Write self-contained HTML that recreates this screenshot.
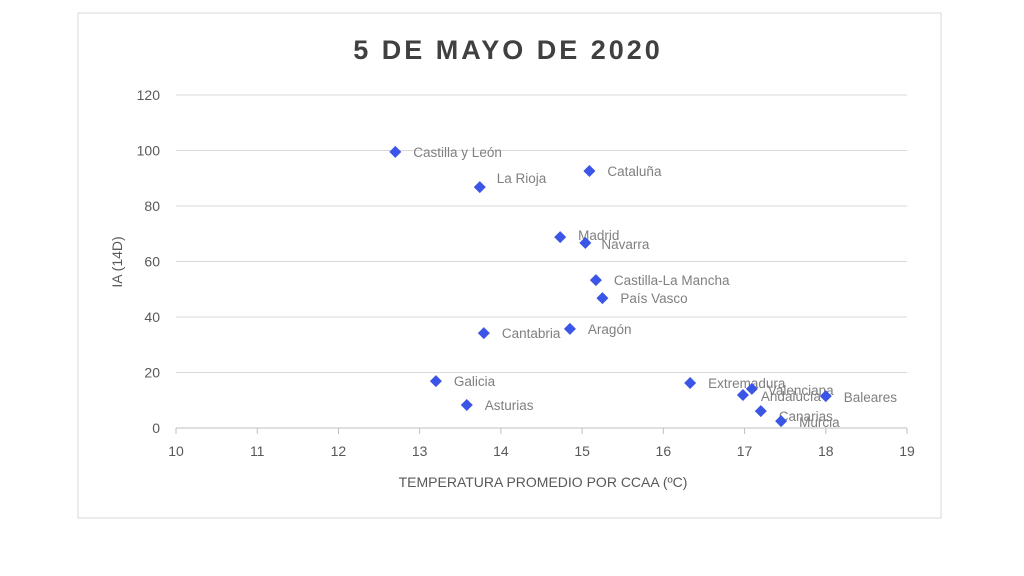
<!DOCTYPE html>
<html><head><meta charset="utf-8"><style>
html,body{margin:0;padding:0;background:#fff;width:1024px;height:576px;overflow:hidden}
svg{font-family:"Liberation Sans",sans-serif}
</style></head><body>
<svg id="chart" width="1024" height="576">
<rect x="78" y="13" width="863" height="505" fill="#fff" stroke="#d9d9d9"/>
<text x="508" y="59" text-anchor="middle" font-size="27" font-weight="bold" fill="#404040" letter-spacing="3">5 DE MAYO DE 2020</text>
<g id="grid"></g><g id="axes"></g><g id="marks"></g>
<text x="543" y="487" text-anchor="middle" font-size="14" fill="#595959">TEMPERATURA  PROMEDIO POR CCAA (ºC)</text>
<text transform="translate(122,262) rotate(-90)" text-anchor="middle" font-size="14" fill="#595959">IA (14D)</text>
</svg>
<script>
const regions=["Castilla y León","La Rioja","Cataluña","Madrid","Navarra","Castilla-La Mancha","País Vasco","Aragón","Cantabria","Galicia","Asturias","Extremadura","Andalucía","Valenciana","Baleares","Canarias","Murcia"];
const temps=[12.70,13.74,15.09,14.73,15.04,15.17,15.25,14.85,13.79,13.20,13.58,16.33,16.98,17.09,18.0,17.2,17.45];
const ia=[99.5,86.8,92.6,68.8,66.7,53.3,46.8,35.7,34.2,16.9,8.3,16.2,11.9,14.1,11.5,6.1,2.5];
const xTicks=[10,11,12,13,14,15,16,17,18,19];
const yTicks=[0,20,40,60,80,100,120];
const X=v=>176+(v-10)*(907-176)/9;
const Y=v=>428-v*(428-95)/120;
const NS="http://www.w3.org/2000/svg";
function mk(tag,attrs,parent,txt){const e=document.createElementNS(NS,tag);for(const k in attrs)e.setAttribute(k,attrs[k]);if(txt!==undefined)e.textContent=txt;parent.appendChild(e);return e;}
const grid=document.getElementById('grid'),axes=document.getElementById('axes'),marks=document.getElementById('marks');
yTicks.forEach(t=>{
 const l=mk('line',{x1:176,x2:907,y1:Y(t),y2:Y(t),stroke:t===0?'#bfbfbf':'#d9d9d9'},grid);
 
 
 const tx=mk('text',{x:160,y:Y(t)+5,'text-anchor':'end','font-size':14,fill:'#595959'},axes,t);
 
 
});
xTicks.forEach(t=>{
 const l=mk('line',{x1:X(t),x2:X(t),y1:428,y2:434,stroke:'#bfbfbf'},axes);
 
 
 const tx=mk('text',{x:X(t),y:456,'text-anchor':'middle','font-size':14,fill:'#595959'},axes,t);
 
 
});
const offs={"La Rioja":[17,-4],"Madrid":[18,3],"Navarra":[16,6],"Valenciana":[16,6],"Andalucía":[18,6],"Baleares":[18,6],"Canarias":[18,10],"Murcia":[18,6]};
regions.forEach((r,i)=>{
 const cx=X(temps[i]),cy=Y(ia[i]);
 const p=mk('path',{d:`M${cx},${cy-6}L${cx+6},${cy}L${cx},${cy+6}L${cx-6},${cy}Z`,fill:'#3b55e6'},marks);
 
 
 const o=offs[r]||[18,5];
 const t=mk('text',{x:cx+o[0],y:cy+o[1],'font-size':13.5,fill:'#7f7f7f'},marks,r);
 
 
});
</script>
</body></html>
